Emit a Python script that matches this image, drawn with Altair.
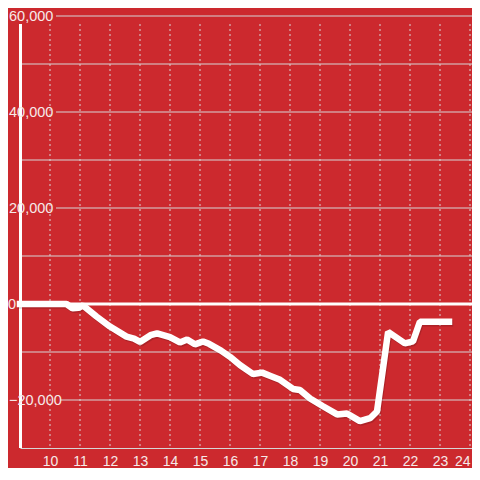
import altair as alt
import pandas as pd

# ---- data ----
xs = [9, 10.55, 10.75, 10.95, 11.1, 11.55, 12.0, 12.55, 12.8, 13.0, 13.35, 13.57,
      14.0, 14.33, 14.57, 14.83, 15.1, 15.3, 15.7, 16.0, 16.33, 16.77, 17.07,
      17.35, 17.67, 18.1, 18.33, 18.67, 19.1, 19.57, 19.9, 20.33, 20.67, 20.9,
      21.27, 21.83, 22.1, 22.33, 23.3]
ys = [0, 0, -900, -800, -300, -2600, -4700, -6800, -7200, -7900, -6500, -6100,
      -6900, -8000, -7400, -8400, -7800, -8300, -9700, -11000, -12700, -14600, -14300,
      -15000, -15800, -17700, -17900, -19700, -21300, -23000, -22800, -24400, -23800, -22400,
      -5800, -8200, -7800, -3700, -3700]

x_ticks = list(range(10, 25))
y_labeled = [60000, 40000, 20000, -20000]
y_plain = [50000, 30000, 10000, -10000]
y_zero = [0]

BG = "#cc292e"
LABEL = "#f6e9e9"
GRID = "#d6d6d6"
FONT = "Liberation Sans"
W, H = 452, 432

line_df = pd.DataFrame({"x": xs, "y": ys})
xs_scale = alt.Scale(domain=[9, 9 + W / 30], nice=False, zero=False)
ys_scale = alt.Scale(domain=[-30000, 60000], nice=False, zero=False)
x_axis = alt.Axis(values=x_ticks, title=None, ticks=False, grid=False,
                  domainColor=GRID, domainWidth=1, labelColor=LABEL,
                  labelFont=FONT, labelFontSize=14, labelPadding=6,
                  format="d", labelFlush=3)

grid_pos = alt.Chart(pd.DataFrame({"v": y_labeled})).transform_filter(
    "datum.v > 0").mark_rule(color=GRID, strokeWidth=1).encode(
    y=alt.Y("v:Q", scale=ys_scale, axis=None),
    x=alt.value(36), x2=alt.value(W))

grid_neg = alt.Chart(pd.DataFrame({"v": y_labeled})).transform_filter(
    "datum.v < 0").mark_rule(color=GRID, strokeWidth=1).encode(
    y=alt.Y("v:Q", scale=ys_scale, axis=None),
    x=alt.value(40), x2=alt.value(W))

grid_plain = alt.Chart(pd.DataFrame({"v": y_plain})).mark_rule(
    color=GRID, strokeWidth=1).encode(
    y=alt.Y("v:Q", scale=ys_scale, axis=None),
    x=alt.value(1), x2=alt.value(W))

vgrid = alt.Chart(pd.DataFrame({"t": x_ticks})).mark_rule(
    color=GRID, strokeWidth=1, strokeDash=[2, 3]).encode(
    x=alt.X("t:Q", scale=xs_scale, axis=x_axis),
    y=alt.value(8), y2=alt.value(H))

zero = alt.Chart(pd.DataFrame({"v": y_zero})).mark_rule(
    color="white", strokeWidth=3).encode(
    y=alt.Y("v:Q", scale=ys_scale, axis=None),
    x=alt.value(0), x2=alt.value(W))

yaxis_line = alt.Chart(pd.DataFrame({"v": y_zero})).mark_rule(
    color="white", strokeWidth=3).encode(
    x=alt.value(0.5), y=alt.value(8), y2=alt.value(H))

shadow = alt.Chart(line_df).mark_line(
    color="black", opacity=0.15, strokeWidth=6.5, strokeCap="square",
    strokeJoin="bevel", yOffset=1.5, xOffset=1).encode(
    x=alt.X("x:Q", scale=xs_scale, axis=x_axis),
    y=alt.Y("y:Q", scale=ys_scale, axis=None))

line = alt.Chart(line_df).mark_line(
    color="white", strokeWidth=6.5, strokeCap="square", strokeJoin="bevel").encode(
    x=alt.X("x:Q", scale=xs_scale, axis=x_axis),
    y=alt.Y("y:Q", scale=ys_scale, axis=None))

ylabels = alt.Chart(pd.DataFrame({"v": y_labeled})).transform_calculate(
    lab="format(datum.v, ',')").mark_text(
    align="left", baseline="middle", font=FONT, fontSize=14.5, color=LABEL, dy=1).encode(
    y=alt.Y("v:Q", scale=ys_scale, axis=None),
    x=alt.value(-11), text="lab:N")

zlabel = alt.Chart(pd.DataFrame({"v": y_zero})).transform_calculate(
    lab="format(datum.v, ',')").mark_text(
    align="right", baseline="middle", font=FONT, fontSize=14.5, color=LABEL, dy=1).encode(
    y=alt.Y("v:Q", scale=ys_scale, axis=None),
    x=alt.value(-4), text="lab:N")

chart = alt.layer(
    grid_pos, grid_neg, grid_plain, vgrid, zero, yaxis_line, shadow, line, ylabels, zlabel
).properties(
    width=W, height=H,
    background=BG,
    padding={"left": 12, "top": 8, "right": 0, "bottom": 20},
    autosize=alt.AutoSizeParams(type="none"),
).configure_view(stroke=None)

chart.save("out.html", embed_options={"renderer": "svg", "actions": False})
